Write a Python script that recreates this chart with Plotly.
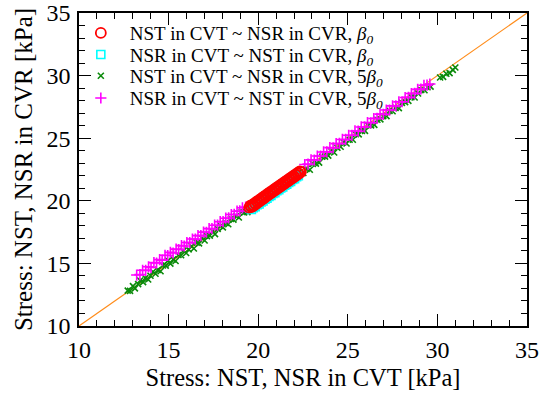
import plotly.graph_objects as go

# ---------------- data ----------------
red_x = [19.50, 19.56, 19.62, 19.68, 19.74, 19.80, 19.86, 19.92, 19.98, 20.04, 20.10, 20.16, 20.22,
         20.28, 20.34, 20.40, 20.46, 20.52, 20.58, 20.64, 20.70, 20.76, 20.82, 20.88, 20.94, 21.00,
         21.06, 21.12, 21.18, 21.24, 21.30, 21.36, 21.42, 21.48, 21.54, 21.60, 21.66, 21.72, 21.78,
         21.84, 21.90, 21.96, 22.02, 22.08, 22.14, 22.20, 22.26, 22.32, 22.38]
red_y = [19.45, 19.62, 19.50, 19.70, 19.60, 19.82, 19.72, 19.93, 19.85, 20.06, 19.98, 20.18, 20.10,
         20.30, 20.22, 20.42, 20.35, 20.55, 20.47, 20.67, 20.60, 20.78, 20.72, 20.91, 20.84, 21.03,
         20.96, 21.15, 21.08, 21.27, 21.20, 21.39, 21.32, 21.51, 21.44, 21.63, 21.56, 21.75, 21.68,
         21.87, 21.80, 21.99, 21.92, 22.11, 22.04, 22.23, 22.16, 22.35, 22.30]

cyan_x = [19.62, 19.72, 19.83, 19.94, 20.05, 20.16, 20.27, 20.38, 20.49, 20.60, 20.71, 20.82, 20.93,
          21.04, 21.15, 21.26, 21.37, 21.48, 21.59, 21.70, 21.81, 21.92, 22.03, 22.14, 22.24]
cyan_y = [19.30, 19.45, 19.52, 19.68, 19.75, 19.90, 19.98, 20.13, 20.20, 20.35, 20.43, 20.58, 20.65,
          20.80, 20.88, 21.02, 21.10, 21.25, 21.32, 21.47, 21.55, 21.70, 21.77, 21.92, 22.00]

green_x = [12.72, 12.85, 13.01, 13.12, 13.30, 13.41, 13.58, 13.70, 13.86, 13.99, 14.13, 14.27, 14.40,
           14.55, 14.68, 14.84, 14.97, 15.10, 15.26, 15.39, 15.55, 15.70, 15.83, 15.98, 16.12, 16.27,
           16.41, 16.57, 16.70, 16.86, 17.01, 17.14, 17.30, 17.45, 17.59, 17.74, 17.90, 18.03, 18.19,
           18.33, 18.48, 18.62, 18.79, 18.92, 19.08, 19.22, 19.40, 19.61, 19.83, 20.10, 20.42, 20.75,
           21.08, 21.40, 21.72, 22.05, 22.31, 22.52, 22.70, 22.88, 23.05, 23.22, 23.40, 23.57, 23.73,
           23.91, 24.08, 24.24, 24.42, 24.60, 24.76, 24.93, 25.10, 25.28, 25.45, 25.61, 25.79, 25.96,
           26.13, 26.30, 26.48, 26.65, 26.82, 26.98, 27.16, 27.33, 27.50, 27.67, 27.85, 28.02, 28.20,
           28.38, 28.55, 28.73, 28.92, 29.10, 29.28, 29.45, 29.62, 30.15, 30.32, 30.50, 30.68, 30.86,
           31.00]
green_y = [12.82, 12.80, 13.19, 13.00, 13.35, 13.63, 13.50, 13.82, 13.71, 14.01, 14.33, 14.17, 14.48,
           14.37, 14.83, 14.82, 15.22, 14.98, 15.32, 15.19, 15.67, 15.65, 16.01, 15.83, 16.12, 16.37,
           16.19, 16.65, 16.60, 17.01, 16.83, 17.18, 17.22, 17.57, 17.34, 17.76, 18.00, 17.88, 18.24,
           18.13, 18.56, 18.50, 18.79, 18.67, 19.13, 19.07, 19.10, 19.51, 19.48, 19.90, 20.02, 20.60,
           20.78, 21.30, 21.37, 21.85, 22.26, 22.22, 22.55, 22.48, 22.95, 22.97, 23.05, 23.52, 23.53,
           23.61, 23.96, 23.86, 24.24, 24.32, 24.68, 24.58, 24.88, 24.88, 25.33, 25.31, 25.59, 25.58,
           26.03, 26.02, 26.06, 26.47, 26.50, 26.76, 26.76, 27.18, 27.15, 27.42, 27.40, 27.82, 27.88,
           27.98, 28.27, 28.25, 28.57, 28.85, 28.83, 29.07, 29.12, 29.85, 29.90, 30.15, 30.20, 30.46,
           30.65]

magenta_x = [13.22, 13.40, 13.55, 13.72, 13.88, 14.02, 14.18, 14.33, 14.50, 14.64, 14.80, 14.95, 15.10,
             15.25, 15.42, 15.56, 15.72, 15.87, 16.02, 16.18, 16.33, 16.49, 16.64, 16.80, 16.95, 17.11,
             17.26, 17.42, 17.57, 17.73, 17.88, 18.04, 18.19, 18.35, 18.50, 18.66, 18.82, 18.97, 19.12,
             19.30, 22.60, 22.78, 22.95, 23.13, 23.30, 23.48, 23.65, 23.83, 24.00, 24.18, 24.35, 24.53,
             24.70, 24.88, 25.05, 25.23, 25.40, 25.58, 25.75, 25.93, 26.10, 26.28, 26.45, 26.63, 26.80,
             26.98, 27.15, 27.33, 27.50, 27.68, 27.85, 28.03, 28.20, 28.38, 28.55, 28.73, 28.90, 29.08,
             29.25, 29.42, 29.58]
magenta_y = [14.07, 14.10, 14.45, 14.44, 14.73, 14.67, 15.06, 15.03, 15.30, 15.26, 15.65, 15.63, 15.88,
             15.83, 16.14, 16.11, 16.42, 16.39, 16.67, 16.66, 16.95, 16.94, 17.22, 17.22, 17.50, 17.49,
             17.78, 17.77, 18.05, 18.05, 18.33, 18.34, 18.61, 18.63, 18.90, 18.91, 19.17, 19.19, 19.44,
             19.50, 22.90, 22.93, 23.27, 23.25, 23.58, 23.58, 23.90, 23.91, 24.25, 24.23, 24.57, 24.58,
             24.90, 24.90, 25.23, 25.23, 25.58, 25.56, 25.90, 25.90, 26.25, 26.23, 26.57, 26.58, 26.92,
             26.90, 27.25, 27.25, 27.58, 27.58, 27.90, 27.91, 28.25, 28.26, 28.57, 28.58, 28.90, 28.93,
             29.23, 29.24, 29.33]

diag = [10, 35]
axis_range = [10, 35]
major_ticks = [10, 15, 20, 25, 30, 35]

names = [
    "NST in CVT ~ NSR in CVR, <i>β<sub>0</sub></i>",
    "NSR in CVT ~ NST in CVR, <i>β<sub>0</sub></i>",
    "NST in CVT ~ NSR in CVR, 5<i>β<sub>0</sub></i>",
    "NSR in CVT ~ NST in CVR, 5<i>β<sub>0</sub></i>",
]

FONT = "Liberation Serif, Times New Roman, serif"

fig = go.Figure()
fig.add_trace(go.Scatter(x=diag, y=diag, mode="lines", line=dict(color="#ff8c1a", width=1.2),
                         showlegend=False, hoverinfo="skip"))
fig.add_trace(go.Scatter(x=green_x, y=green_y, mode="markers", name=names[2], legend="legend3",
                         marker=dict(symbol="x-thin-open", size=6, line=dict(color="#0a8a0a", width=1.6),
                                     color="#0a8a0a")))
fig.add_trace(go.Scatter(x=magenta_x, y=magenta_y, mode="markers", name=names[3], legend="legend4",
                         marker=dict(symbol="cross-thin-open", size=8, line=dict(color="#ff00ff", width=1.6),
                                     color="#ff00ff")))
fig.add_trace(go.Scatter(x=cyan_x, y=cyan_y, mode="markers", name=names[1], legend="legend2",
                         marker=dict(symbol="square-open", size=8, line=dict(color="#00ffff", width=1.6),
                                     color="#00ffff")))
fig.add_trace(go.Scatter(x=red_x, y=red_y, mode="markers", name=names[0], legend="legend",
                         marker=dict(symbol="circle-open", size=10, line=dict(color="#ff0000", width=1.8),
                                     color="#ff0000")))

axis_common = dict(
    range=axis_range, tickvals=major_ticks, ticks="inside", ticklen=12, tickwidth=1.2,
    tickcolor="black", showline=True, linecolor="black", linewidth=1.5, mirror="ticks",
    showgrid=False, zeroline=False, tickfont=dict(family=FONT, size=24, color="black"),
    minor=dict(dtick=1, ticks="inside", ticklen=6, tickwidth=1.2, tickcolor="black", showgrid=False),
    automargin=False,
)

fig.update_xaxes(**axis_common,
                 title=dict(text="Stress: NST, NSR in CVT [kPa]", font=dict(family=FONT, size=24.5, color="black"),
                            standoff=7),
                 ticklabelstandoff=1)
fig.update_yaxes(**axis_common,
                 title=dict(text="Stress: NST, NSR in CVR [kPa]", font=dict(family=FONT, size=25, color="black"),
                            standoff=7),
                 ticklabelstandoff=2)

leg_common = dict(x=-0.016, xanchor="left", yanchor="middle", bgcolor="rgba(0,0,0,0)",
                  font=dict(family=FONT, size=19, color="black"), itemwidth=48)
fig.update_layout(
    width=540, height=395,
    margin=dict(l=79, r=13, t=13, b=69, autoexpand=False),
    plot_bgcolor="white", paper_bgcolor="white",
    font=dict(family=FONT, color="black"),
    legend=dict(y=0.936, **leg_common),
    legend2=dict(y=0.867, **leg_common),
    legend3=dict(y=0.799, **leg_common),
    legend4=dict(y=0.728, **leg_common),
)

fig.write_html("out.html")
